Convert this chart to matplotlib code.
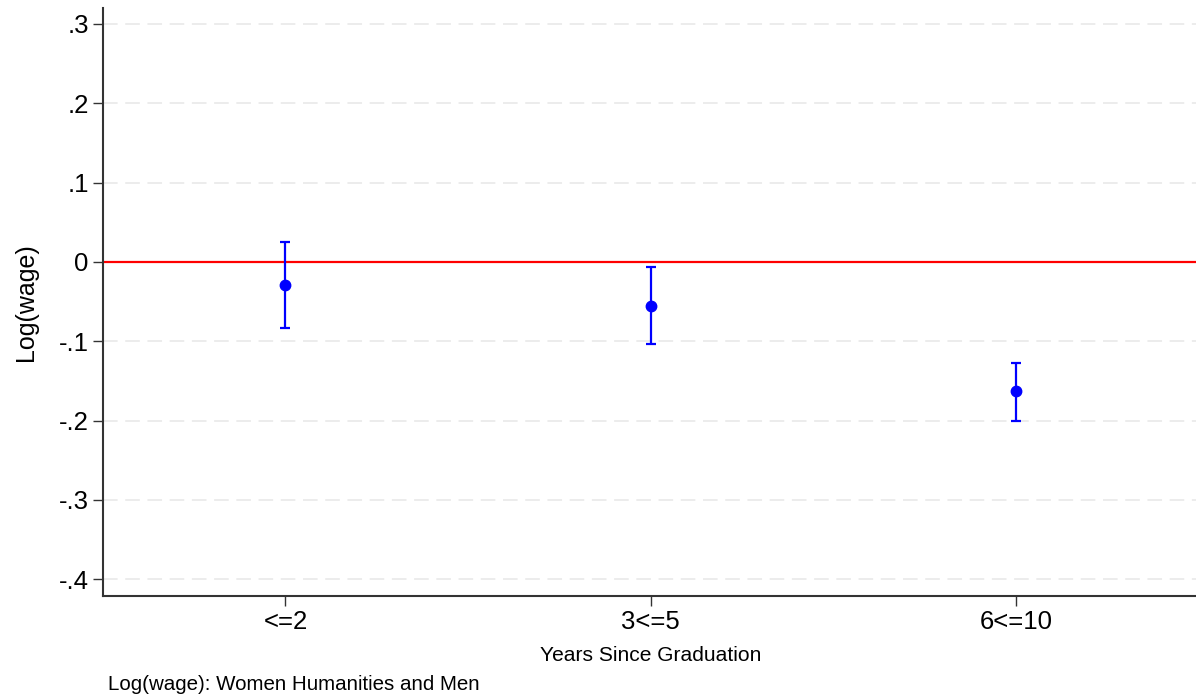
import matplotlib
matplotlib.use("Agg")
import matplotlib.pyplot as plt

# ==========================================
# DATA
# ==========================================
groups   = ["<=2", "3<=5", "6<=10"]
estimate = [-0.029, -0.055, -0.163]
ci_low   = [-0.083, -0.103, -0.200]
ci_high  = [0.025, -0.007, -0.127]
yticks   = [-0.4, -0.3, -0.2, -0.1, 0.0, 0.1, 0.2, 0.3]
yticklab = ["-.4", "-.3", "-.2", "-.1", "0", ".1", ".2", ".3"]

plt.rcParams["font.family"] = ["Liberation Sans", "DejaVu Sans"]
plt.rcParams["lines.scale_dashes"] = False

fig = plt.figure(figsize=(11.96, 6.97), dpi=100)
fig.patch.set_facecolor("white")
ax = fig.add_axes([0.0859, 0.1449, 0.9166, 0.8436])

xpos = list(range(1, len(groups) + 1))
lower = [e - l for e, l in zip(estimate, ci_low)]
upper = [h - e for e, h in zip(estimate, ci_high)]

# grid lines + zero reference
for t in yticks:
    ax.axhline(t, color="#eaeaea", linewidth=1.3, dashes=(10.5, 5.5), zorder=0)
ax.axhline(0, color="#ff0000", linewidth=1.6, zorder=1)

ax.errorbar(xpos, estimate, yerr=[lower, upper], fmt="o", color="#0000ff",
            markersize=7.5, elinewidth=1.6, capsize=3.4, capthick=1.6, zorder=3)

ax.set_xlim(0.5, 3.5)
ax.set_ylim(-0.4212, 0.320)
ax.set_xticks(xpos)
ax.set_xticklabels(groups, fontsize=18.5)
ax.set_yticks(yticks)
ax.set_yticklabels(yticklab, fontsize=18.5)
ax.tick_params(axis="both", length=7, width=1.0, color="#333333", pad=3)

for s in ["top", "right"]:
    ax.spines[s].set_visible(False)
for s in ["left", "bottom"]:
    ax.spines[s].set_linewidth(1.5)
    ax.spines[s].set_color("#333333")

ax.set_ylabel("Log(wage)", fontsize=18, labelpad=15)
ax.set_xlabel("Years Since Graduation", fontsize=15.1, labelpad=9)

fig.text(0.0903, 0.010, "Log(wage): Women Humanities and Men", fontsize=14.8,
         ha="left", va="baseline")

fig.savefig("out.png", dpi=100, facecolor="white")
